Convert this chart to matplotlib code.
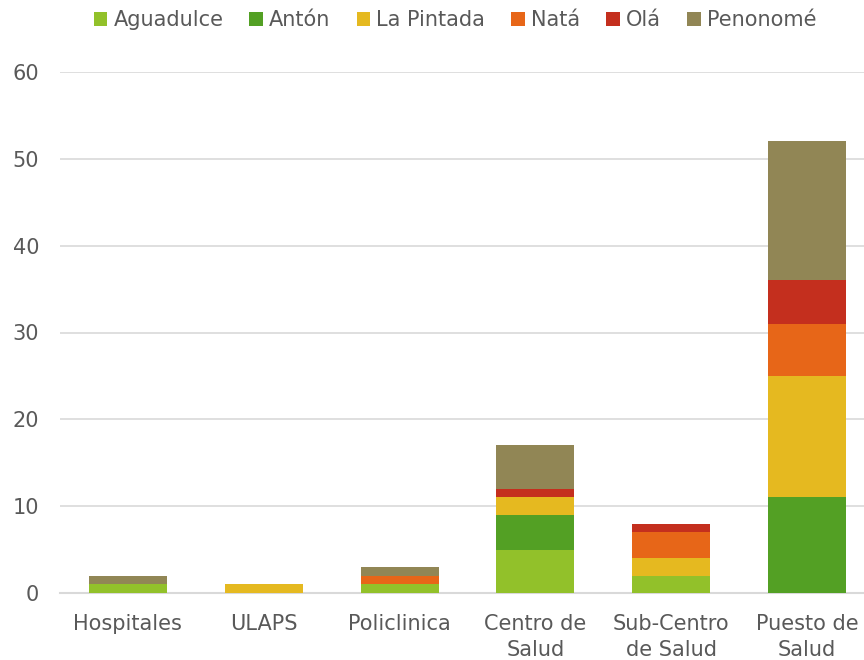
import matplotlib.pyplot as plt
import numpy as np

categories = ['Hospitales', 'ULAPS', 'Policlinica', 'Centro de\nSalud', 'Sub-Centro\nde Salud', 'Puesto de\nSalud']
aguadulce = [1, 0, 1, 5, 2, 0]
anton = [0, 0, 0, 4, 0, 11]
la_pintada = [0, 1, 0, 2, 2, 14]
nata = [0, 0, 1, 0, 3, 6]
ola = [0, 0, 0, 1, 1, 5]
penonome = [1, 0, 1, 5, 0, 16]

series = [
    ('Aguadulce', aguadulce, '#92C12A'),
    ('Antón', anton, '#53A024'),
    ('La Pintada', la_pintada, '#E5B920'),
    ('Natá', nata, '#E76618'),
    ('Olá', ola, '#C42F1E'),
    ('Penonomé', penonome, '#918655'),
]

txt = '#595959'
plt.rcParams['font.family'] = ['DejaVu Sans']

fig = plt.figure(figsize=(8.64, 6.6), dpi=100)
ax = fig.add_axes([60 / 864, 67 / 660, 815 / 864, 521 / 660])

x = np.arange(len(categories))
bottom = np.zeros(len(categories))
for name, vals, col in series:
    ax.bar(x, vals, width=0.575, bottom=bottom, color=col, label=name, zorder=3)
    bottom += np.array(vals)

ax.set_xlim(-0.5, 5.5)
ax.set_ylim(0, 60)
ax.set_yticks(range(0, 61, 10))
ax.yaxis.grid(True, color='#D9D9D9', linewidth=1.2, zorder=0)
ax.set_xticks(x)
ax.set_xticklabels(categories, fontsize=15, color=txt, linespacing=1.4)
ax.tick_params(axis='y', labelsize=15, labelcolor=txt, length=0, pad=15)
ax.tick_params(axis='x', length=0, pad=15)
for s in ['top', 'right', 'left']:
    ax.spines[s].set_visible(False)
ax.spines['bottom'].set_color('#D9D9D9')
ax.spines['bottom'].set_linewidth(1.5)

leg = fig.legend(loc='center', bbox_to_anchor=(455 / 864, 640 / 660), ncol=6, frameon=False,
                 fontsize=15, handlelength=0.65, handleheight=0.65, handletextpad=0.3,
                 columnspacing=1.25)
for t in leg.get_texts():
    t.set_color(txt)

fig.savefig('out.png', dpi=100)
